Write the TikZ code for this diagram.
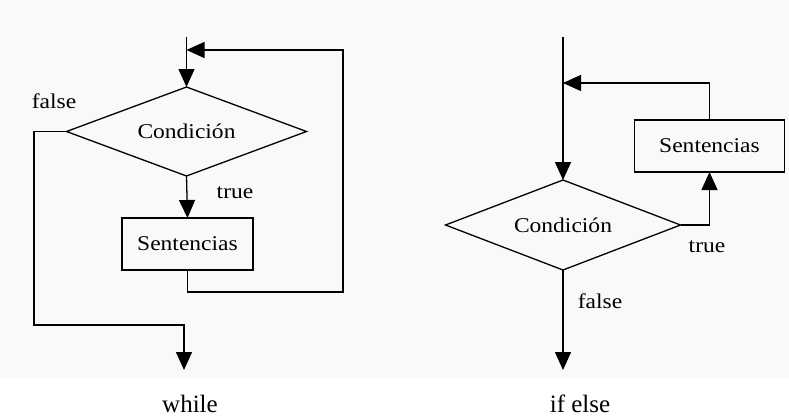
\documentclass[tikz,border=0pt]{standalone}
\usepackage{fontspec}
\setmainfont{Liberation Serif}
\newfontfamily\wideserif[FakeStretch=1.12]{Liberation Serif}
\usetikzlibrary{shapes.geometric,arrows.meta}
\begin{document}
\begin{tikzpicture}[x=1pt,y=-1pt,
  line width=1.3pt,
  arr/.style={-{Triangle[length=18pt,width=16pt]}},
  lbl/.style={font=\wideserif\fontsize{21}{25}\selectfont, inner sep=0pt},
  captext/.style={font=\fontsize{25}{30}\selectfont, inner sep=0pt, anchor=base},
  cond/.style={draw, diamond, inner sep=0pt, outer sep=0pt, font=\wideserif\fontsize{21}{25}\selectfont},
  stmt/.style={draw, rectangle, inner sep=0pt, outer sep=0pt, font=\wideserif\fontsize{21}{25}\selectfont}
]
\useasboundingbox (0,0) rectangle (789,416);
\fill[gray!5] (0,0) rectangle (789,378);

% ---- while ----
\node[cond, minimum width=240pt, minimum height=89pt, aspect=2.7] (d1) at (186.5,131.5) {Condición};
\node[stmt, minimum width=131pt, minimum height=52pt] (b1) at (187.5,244) {Sentencias};
\coordinate (top1) at (186.5,37);
\coordinate (j1) at (186.5,50);
\coordinate (c1) at (343,292);
\coordinate (f1) at (34,325);
\coordinate (e1) at (184,370);
\draw[arr] (top1) -- (d1.north);
\draw[arr] (d1.south) -- (b1.north);
\draw[arr] (b1.south) |- (c1) |- (j1);
\draw[arr] (d1.west) -| (f1) -| (e1);
\node[lbl] (false1) at (54,101) {false};
\node[lbl] (true1) at (235,193) {true};
\node[captext] (while) at (190,412) {while};

% ---- if else ----
\node[cond, minimum width=235pt, minimum height=90pt, aspect=2.6] (d2) at (563,225) {Condición};
\node[stmt, minimum width=150pt, minimum height=52pt] (b2) at (709.5,146) {Sentencias};
\coordinate (top2) at (563,37);
\coordinate (j2) at (563,83);
\coordinate (e2) at (563,370);
\draw[arr] (top2) -- (d2.north);
\draw[arr] (b2.north) |- (j2);
\draw[arr] (d2.east) -| (b2.south);
\draw[arr] (d2.south) -- (e2);
\node[lbl] (true2) at (707,247) {true};
\node[lbl] (false2) at (600,301) {false};
\node[captext] (ifelse) at (580,412) {if else};
\end{tikzpicture}
\end{document}
